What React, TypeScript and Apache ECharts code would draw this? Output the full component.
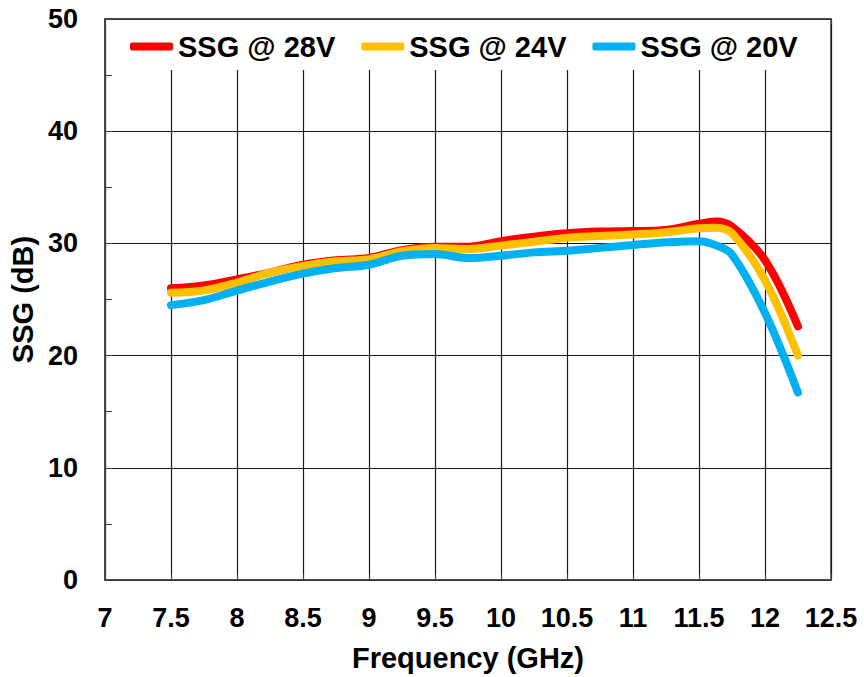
import React, { useEffect, useRef } from "react";
import * as echarts from "echarts";

const freq = [7.5, 7.75, 8, 8.25, 8.5, 8.75, 9, 9.25, 9.5, 9.75, 10, 10.25, 10.5, 10.75, 11, 11.25, 11.5, 11.625, 11.75, 12, 12.25];
const ssg28 = [26.0, 26.25, 26.8, 27.4, 28.1, 28.5, 28.7, 29.4, 29.7, 29.7, 30.2, 30.6, 30.9, 31.05, 31.1, 31.2, 31.75, 31.95, 31.5, 28.5, 22.6];
const ssg24 = [25.6, 25.8, 26.5, 27.4, 28.0, 28.4, 28.6, 29.3, 29.6, 29.5, 29.8, 30.15, 30.5, 30.65, 30.8, 31.0, 31.35, 31.4, 30.9, 26.7, 20.0];
const ssg20 = [24.5, 24.95, 25.8, 26.6, 27.3, 27.8, 28.1, 28.9, 29.05, 28.7, 28.9, 29.2, 29.35, 29.6, 29.85, 30.1, 30.2, 29.85, 29.0, 23.8, 16.7];
const seriesNames = ["SSG @ 28V", "SSG @ 24V", "SSG @ 20V"];
const colors = ["#FF0000", "#FFC000", "#00B0F0"];

const FONT = "'Liberation Sans', Arial, sans-serif";

export default function App() {
  const ref = useRef<HTMLDivElement>(null);
  useEffect(() => {
    if (!ref.current) return;
    const chart = echarts.init(ref.current, null, { renderer: "svg" });
    const all = [ssg28, ssg24, ssg20];
    chart.setOption({
      animation: false,
      backgroundColor: "#fff",
      grid: {
        left: 105,
        right: 33,
        top: 19,
        bottom: 93,
        show: true,
        borderColor: "#404040",
        borderWidth: 1.5,
      },
      legend: {
        left: 130,
        top: 32,
        padding: 0,
        itemWidth: 43,
        itemHeight: 8,
        itemGap: 26,
        icon: "roundRect",
        z: 5,
        textStyle: { fontFamily: FONT, fontWeight: "bold", fontSize: 29, color: "#000" },
        data: seriesNames,
      },
      graphic: [
        {
          type: "rect",
          z: 1,
          shape: { x: 107, y: 20, width: 723, height: 50 },
          style: { fill: "#fff" },
        },
      ],
      xAxis: [
        {
          type: "value",
          min: 7,
          max: 12.5,
          interval: 0.5,
          name: "Frequency (GHz)",
          nameLocation: "middle",
          nameGap: 63,
          nameTextStyle: { fontFamily: FONT, fontWeight: "bold", fontSize: 29, color: "#000" },
          axisLine: { show: true, lineStyle: { color: "#404040", width: 1.5 } },
          axisTick: { show: true, inside: true, length: 6, lineStyle: { color: "#404040" } },
          axisLabel: { fontFamily: FONT, fontWeight: "bold", fontSize: 27, color: "#000", margin: 24 },
          splitLine: { show: true, lineStyle: { color: "#1a1a1a", width: 1.2 } },
        },
        {
          type: "value",
          position: "top",
          min: 7,
          max: 12.5,
          interval: 0.5,
          axisLine: { show: true, lineStyle: { color: "#404040", width: 1.5 } },
          axisTick: { show: true, inside: true, length: 5, lineStyle: { color: "#404040" } },
          axisLabel: { show: false },
          splitLine: { show: false },
        },
      ],
      yAxis: {
        type: "value",
        min: 0,
        max: 50,
        interval: 10,
        name: "SSG (dB)",
        nameLocation: "middle",
        nameGap: 63,
        nameTextStyle: { fontFamily: FONT, fontWeight: "bold", fontSize: 29, color: "#000" },
        axisLine: { show: true, lineStyle: { color: "#404040", width: 1.5 } },
        axisTick: { show: true, inside: true, length: 7, lineStyle: { color: "#404040" } },
        minorTick: { show: true, splitNumber: 2, length: 7, lineStyle: { color: "#404040" } },
        axisLabel: { fontFamily: FONT, fontWeight: "bold", fontSize: 27, color: "#000", margin: 27 },
        splitLine: { show: true, lineStyle: { color: "#1a1a1a", width: 1.2 } },
      },
      series: seriesNames.map((name, i) => ({
        name,
        type: "line",
        xAxisIndex: 0,
        z: 3 + i,
        smooth: 0.35,
        showSymbol: false,
        symbol: "none",
        color: colors[i],
        lineStyle: { width: 8, color: colors[i], cap: "round", join: "round" },
        data: freq.map((f, k) => [f, all[i][k]]),
      })),
    });
    return () => chart.dispose();
  }, []);
  return <div ref={ref} style={{ width: 864, height: 677, position: "absolute", left: 0, top: 0 }} />;
}
